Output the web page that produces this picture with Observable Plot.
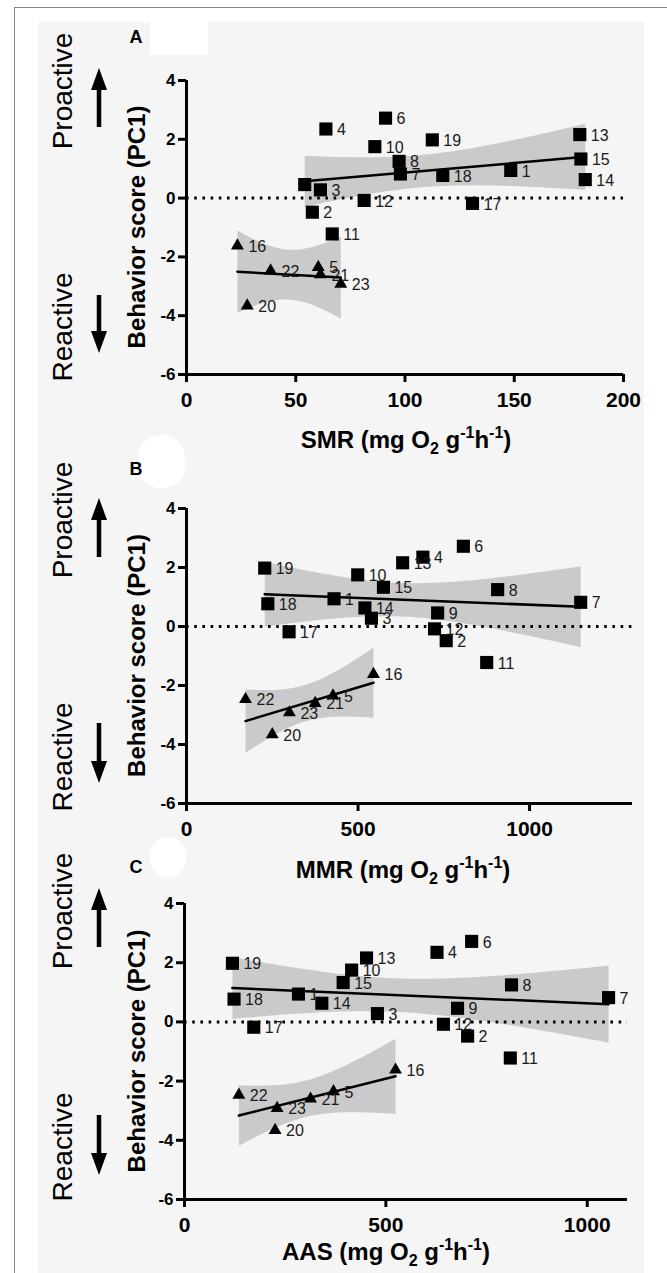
<!DOCTYPE html>
<html><head><meta charset="utf-8">
<script src="https://cdn.jsdelivr.net/npm/d3@7"></script>
<script src="https://cdn.jsdelivr.net/npm/@observablehq/plot@0.6"></script>
<style>
body{margin:0;background:#fff;}
#fig{position:relative;width:667px;height:1273px;overflow:hidden;font-family:"Liberation Sans",Arial,sans-serif;}
.frameT{position:absolute;left:14px;top:7px;width:653px;height:0;border-top:1.5px solid #858585;}
.frameL{position:absolute;left:14px;top:7px;width:0;height:1266px;border-left:1.5px solid #858585;}
.bg{position:absolute;left:38px;top:22px;width:606px;height:1251px;background:#f5f5f5;}
.blob{position:absolute;background:#fff;}
.panel{position:absolute;left:0;}
</style></head>
<body>
<div id="fig">
  <div class="frameT"></div><div class="frameL"></div>
  <div class="bg"></div>
  <div class="blob" style="left:150px;top:22px;width:58px;height:33px;"></div>
  <div class="blob" style="left:138px;top:435px;width:47px;height:53px;border-radius:22px;"></div>
  <div class="blob" style="left:150px;top:837px;width:36px;height:40px;border-radius:18px;"></div>
</div>
<script>
// ---- data ----
const fishId = [1,2,3,4,5,6,7,8,9,10,11,12,13,14,15,16,17,18,19,20,21,22,23];
const group  = ["P","P","P","P","R","P","P","P","P","P","P","P","P","P","P","R","P","P","P","R","R","R","R"];
const pc1    = [0.94,-0.48,0.28,2.35,-2.35,2.72,0.82,1.25,0.46,1.75,-1.22,-0.08,2.16,0.63,1.33,-1.62,-0.18,0.77,1.98,-3.66,-2.60,-2.47,-2.92];
const smr    = [148.4,57.6,61.3,63.8,60.3,91.1,97.9,97.3,54.1,86.2,66.7,81.3,180,182.5,180.5,23.3,130.9,117.3,112.5,27.8,61.3,38.5,70.6];
const mmr    = [430,757,539,689,427,807,1149,907,732,499,875,723,630,520,574,545,299,237,228,250,375,172,300];
const aas    = [283,703,479,627,370,713,1053,812,678,415,809,643,452,341,394,524,172,123,119,225,313,135,230];
const yTicks = [-6,-4,-2,0,2,4];
const xTicksSMR = [0,50,100,150,200];
const xTicksMR  = [0,500,1000];

const rows = fishId.map((id,i)=>({id, group:group[i], pc1:pc1[i], smr:smr[i], mmr:mmr[i], aas:aas[i]}));

const FONT = '"Liberation Sans", Arial, Helvetica, sans-serif';

const panels = [
  {letter:"A", key:"smr", name:"SMR", xDomain:[0,200], xTicks:xTicksSMR, top:0, height:460, mt:80, mb:86, ml:186, mr:44, hide:[9],
   letterY:43, proY:91, reaY:327, upArrow:[68,127], downArrow:[295,353], titleX:406, titleY:448},
  {letter:"B", key:"mmr", name:"MMR", xDomain:[0,1300], xTicks:xTicksMR, top:460, height:440, mt:48, mb:97, ml:186, mr:35, hide:[],
   letterY:475, proY:520, reaY:757, upArrow:[498,557], downArrow:[723,783], titleX:403, titleY:878},
  {letter:"C", key:"aas", name:"AAS", xDomain:[0,1100], xTicks:xTicksMR, top:900, height:373, mt:3, mb:74, ml:184, mr:40, hide:[],
   letterY:873, proY:911, reaY:1147, upArrow:[888,947], downArrow:[1115,1175], titleX:386, titleY:1260}
];

const fig = document.getElementById("fig");

for (const p of panels) {
  const sq = rows.filter(d=>d.group==="P");
  const tr = rows.filter(d=>d.group==="R");
  const chart = Plot.plot({
    width: 667, height: p.height,
    marginTop: p.mt, marginBottom: p.mb, marginLeft: p.ml, marginRight: p.mr,
    style: {background:"transparent", overflow:"visible", fontFamily: FONT, color:"black"},
    x: {domain: p.xDomain, label: null},
    y: {domain: [-6,4], label: null},
    marks: [
      Plot.linearRegressionY(sq, {x:p.key, y:"pc1", stroke:"black", strokeWidth:2.5, fill:"#cacaca", fillOpacity:1}),
      Plot.linearRegressionY(tr, {x:p.key, y:"pc1", stroke:"black", strokeWidth:2.5, fill:"#cacaca", fillOpacity:1}),
      Plot.ruleY([0], {stroke:"black", strokeWidth:3, strokeDasharray:"2.6,5.6"}),
      Plot.dot(sq, {x:p.key, y:"pc1", symbol:"square", r:7.4, fill:"black", stroke:"none"}),
      Plot.dot(tr, {x:p.key, y:"pc1", symbol:"triangle", r:4.8, fill:"black", stroke:"none"}),
      Plot.text(rows.filter(d=>!p.hide.includes(d.id)), {x:p.key, y:"pc1", text:"id", dx:11, dy:1, textAnchor:"start", fontSize:16, fill:"#1a1a1a", fontFamily:FONT}),
      Plot.axisX({ticks:p.xTicks, tickFormat:d=>String(d), tickSize:8, tickPadding:10, strokeWidth:3, fontSize:21, fontWeight:"bold", label:null, fontFamily:FONT}),
      Plot.axisY({ticks:yTicks, tickFormat:d=>String(d), tickSize:8, tickPadding:3, strokeWidth:3, fontSize:17, fontWeight:"bold", label:null, fontFamily:FONT}),
      Plot.ruleX([0], {stroke:"black", strokeWidth:3}),
      Plot.ruleY([-6], {stroke:"black", strokeWidth:3})
    ]
  });
  chart.style.position = "absolute";
  chart.style.left = "0px";
  chart.style.top = p.top + "px";
  const svg = d3.select(chart);
  const T = p.top;
  // y-axis title
  const cy = (p.mt + (p.height - p.mb)) / 2;
  svg.append("text")
    .attr("transform", `translate(145,${cy}) rotate(-90)`)
    .attr("text-anchor","middle")
    .style("font", `bold 24px ${FONT}`).attr("fill","black")
    .text("Behavior score (PC1)");
  // Proactive / Reactive
  svg.append("text").attr("transform", `translate(72,${p.proY - T}) rotate(-90)`)
    .attr("text-anchor","middle").style("font", `28px ${FONT}`).attr("fill","black").text("Proactive");
  svg.append("text").attr("transform", `translate(72,${p.reaY - T}) rotate(-90)`)
    .attr("text-anchor","middle").style("font", `28px ${FONT}`).attr("fill","black").text("Reactive");
  // arrows
  const ax = 99;
  const [u0,u1] = p.upArrow;
  svg.append("line").attr("x1",ax).attr("x2",ax).attr("y1",u0+18-T).attr("y2",u1-T).attr("stroke","black").attr("stroke-width",4.5);
  svg.append("path").attr("d",`M${ax},${u0-T} L${ax-8},${u0+22-T} L${ax+8},${u0+22-T} Z`).attr("fill","black");
  const [d0,d1] = p.downArrow;
  svg.append("line").attr("x1",ax).attr("x2",ax).attr("y1",d0-T).attr("y2",d1-18-T).attr("stroke","black").attr("stroke-width",4.5);
  svg.append("path").attr("d",`M${ax},${d1-T} L${ax-8},${d1-22-T} L${ax+8},${d1-22-T} Z`).attr("fill","black");
  // panel letter
  svg.append("text").attr("x",136).attr("y",p.letterY - T).attr("text-anchor","middle")
    .style("font", `bold 18px ${FONT}`).attr("fill","black").text(p.letter);
  // x-axis title with sub/superscripts
  const t = svg.append("text").attr("x", p.titleX).attr("y", p.titleY - T).attr("text-anchor","middle")
    .style("font", `bold 24px ${FONT}`).attr("fill","black");
  t.append("tspan").text(`${p.name} (mg O`);
  t.append("tspan").attr("dy",6).style("font-size","16px").text("2");
  t.append("tspan").attr("dy",-6).text(" g");
  t.append("tspan").attr("dy",-10).style("font-size","16px").text("-1");
  t.append("tspan").attr("dy",10).text("h");
  t.append("tspan").attr("dy",-10).style("font-size","16px").text("-1");
  t.append("tspan").attr("dy",10).text(")");
  fig.appendChild(chart);
}
</script>
</body></html>
